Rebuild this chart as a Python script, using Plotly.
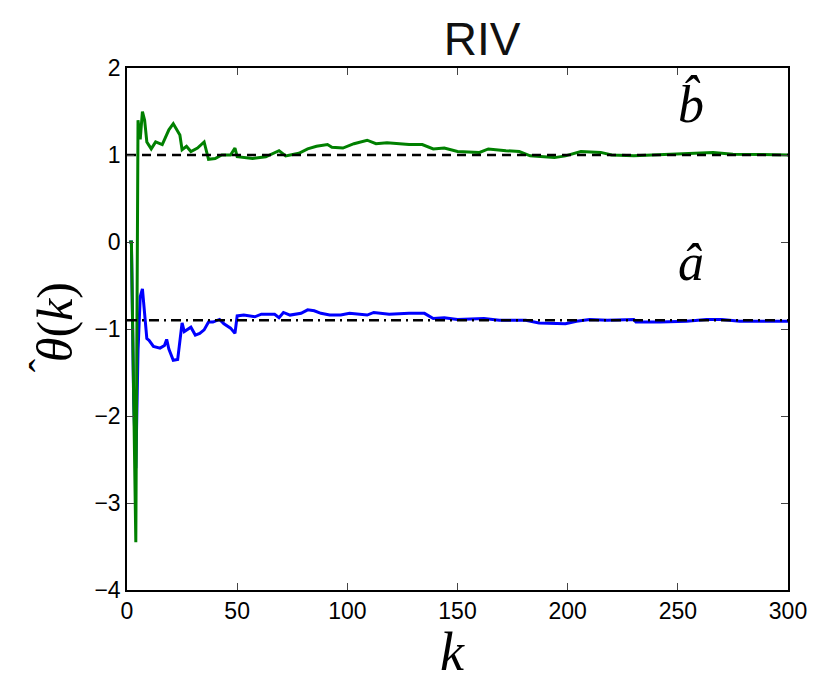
import plotly.graph_objects as go

# estimated parameter b (green)
k_b = [1, 2, 4, 5, 6, 7, 8, 9, 11, 13, 16, 19, 21, 22, 24, 25, 27, 29, 32, 35,
       37, 40, 43, 47, 49, 50, 57, 63, 69, 72, 78, 82, 86, 91, 93, 98, 103, 109,
       113, 118, 122, 128, 134, 139, 144, 150, 160, 164, 172, 178, 183, 194, 199,
       206, 215, 220, 230, 245, 266, 275, 300]
b_hat = [0.0, 0.0, -3.45, 1.40, 1.18, 1.50, 1.40, 1.15, 1.07, 1.15, 1.12, 1.29,
         1.36, 1.32, 1.23, 1.06, 1.10, 1.04, 1.08, 1.15, 0.95, 0.96, 1.00, 1.00,
         1.08, 0.98, 0.96, 0.98, 1.05, 0.99, 1.02, 1.07, 1.10, 1.12, 1.09, 1.08,
         1.13, 1.17, 1.13, 1.14, 1.13, 1.12, 1.12, 1.07, 1.08, 1.04, 1.03, 1.07,
         1.05, 1.04, 0.99, 0.97, 0.99, 1.04, 1.03, 1.00, 0.99, 1.01, 1.03, 1.01,
         1.00]

# estimated parameter a (blue)
k_a = [1, 2, 3, 4, 5, 6, 7, 8, 9, 10, 12, 15, 17, 18, 19, 21, 23, 25, 26, 29,
       31, 33, 35, 37, 39, 42, 44, 47, 49, 50, 53, 58, 61, 67, 69, 71, 74, 79,
       82, 85, 88, 92, 97, 101, 109, 112, 119, 128, 135, 139, 144, 150, 162, 169,
       181, 187, 199, 204, 210, 218, 230, 231, 242, 254, 263, 270, 278, 300]
a_hat = [0.0, 0.0, -1.8, -2.6, -1.25, -0.63, -0.54, -0.85, -1.11, -1.13, -1.20,
         -1.22, -1.19, -1.12, -1.23, -1.36, -1.35, -0.93, -1.03, -0.98, -1.07,
         -1.05, -1.01, -0.92, -0.92, -0.89, -0.94, -0.99, -1.05, -0.85, -0.84,
         -0.86, -0.83, -0.83, -0.87, -0.81, -0.84, -0.82, -0.78, -0.79, -0.82,
         -0.84, -0.84, -0.82, -0.84, -0.81, -0.83, -0.82, -0.82, -0.88, -0.87,
         -0.89, -0.88, -0.90, -0.90, -0.93, -0.94, -0.91, -0.89, -0.90, -0.89,
         -0.92, -0.92, -0.91, -0.89, -0.89, -0.91, -0.91]

# true values
k_span = [0, 300]
b_true = 1.0
a_true = -0.9

x_ticks = [0, 50, 100, 150, 200, 250, 300]
y_ticks = [-4, -3, -2, -1, 0, 1, 2]

math_font = dict(family="Liberation Serif", color="black")

fig = go.Figure()
fig.add_trace(go.Scatter(x=k_a, y=a_hat, mode="lines",
                         line=dict(color="#0000ff", width=3)))
fig.add_trace(go.Scatter(x=k_b, y=b_hat, mode="lines",
                         line=dict(color="#008000", width=3)))
fig.add_trace(go.Scatter(x=k_span, y=[b_true, b_true], mode="lines",
                         line=dict(color="black", width=2.5, dash="9px,6px")))
fig.add_trace(go.Scatter(x=k_span, y=[a_true, a_true], mode="lines",
                         line=dict(color="black", width=2.5, dash="10px,5px,2px,5px")))

axis_common = dict(showgrid=False, zeroline=False, showline=True, linecolor="black",
                   linewidth=1.5, mirror="ticks", ticks="inside", ticklen=7,
                   tickcolor="#444", tickwidth=1,
                   tickfont=dict(family="Liberation Sans", size=23, color="black"))

fig.update_xaxes(range=[0, 300], tickvals=x_ticks, **axis_common)
fig.update_yaxes(range=[-4, 2], tickvals=y_ticks,
                 ticktext=[str(v).replace("-", "\u2212") for v in y_ticks],
                 **axis_common)

fig.add_annotation(x=256, y=1.23, xref="x", yref="y", text="<i>b\u0302</i>",
                   showarrow=False, xanchor="center", yanchor="bottom",
                   font=dict(size=52, **math_font))
fig.add_annotation(x=256, y=-0.59, xref="x", yref="y", text="<i>a\u0302</i>",
                   showarrow=False, xanchor="center", yanchor="bottom",
                   font=dict(size=52, **math_font))
fig.add_annotation(x=0.493, y=-0.118, xref="paper", yref="paper", text="<i>k</i>",
                   showarrow=False, xanchor="center", yanchor="middle",
                   font=dict(size=54, **math_font))
# y-axis label theta(k), with its hat as a separate mark
fig.add_annotation(x=-0.109, y=0.513, xref="paper", yref="paper",
                   text="<i>\u03b8</i>(<i>k</i>)", textangle=-90,
                   showarrow=False, xanchor="center", yanchor="middle",
                   font=dict(size=50, **math_font))
fig.add_annotation(x=-0.126, y=0.43, xref="paper", yref="paper",
                   text="\u02c6", textangle=-90,
                   showarrow=False, xanchor="center", yanchor="middle",
                   font=dict(size=40, **math_font))

# the page adds an 8px body margin, so the figure is drawn 8px smaller
fig.update_layout(
    width=815, height=666,
    margin=dict(l=119, r=35, t=60, b=84, autoexpand=False),
    paper_bgcolor="white", plot_bgcolor="white",
    showlegend=False,
    title=dict(text="RIV", x=0.5816, xanchor="center", y=0.954, yanchor="middle",
               font=dict(family="Liberation Sans", size=46, color="#111")),
)

fig.write_html("out.html")
